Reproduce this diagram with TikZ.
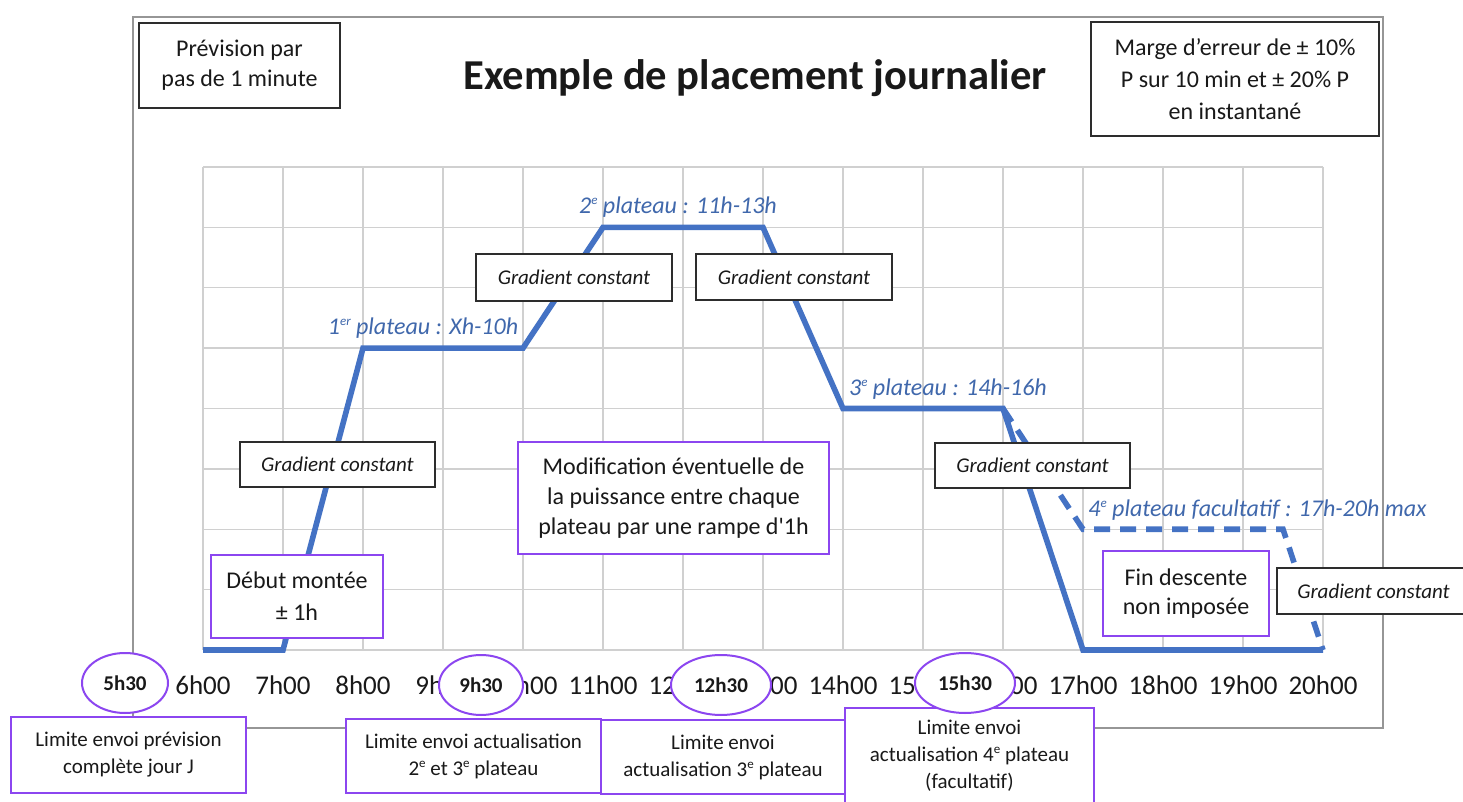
\documentclass[tikz,border=0pt]{standalone}
\usepackage{fontspec}
\newfontfamily\cf{Carlito}
\usetikzlibrary{shapes.geometric}
\definecolor{lineblue}{RGB}{68,114,196}
\definecolor{txtblue}{RGB}{64,104,172}
\definecolor{purp}{RGB}{140,70,240}
\definecolor{gridgray}{RGB}{208,208,208}
\definecolor{framegray}{RGB}{150,150,150}
\definecolor{boxblack}{RGB}{45,45,45}
\definecolor{txt}{RGB}{25,25,25}
\newcommand\supx[1]{\raisebox{0.8ex}{\fontsize{6.5}{7}\selectfont #1}}
\begin{document}
\begin{tikzpicture}[x=0.5pt,y=-0.5pt, font=\cf, text=txt,
  blackbox/.style={draw=boxblack, line width=1pt, fill=white, inner sep=0pt, align=center},
  purpbox/.style={draw=purp, line width=1pt, fill=white, inner sep=0pt, align=center},
  gcbox/.style={blackbox, font=\cf\itshape\fontsize{10.5}{13}\selectfont},
  bigtext/.style={font=\cf\fontsize{12}{15}\selectfont},
  smalltext/.style={font=\cf\fontsize{10.5}{13.5}\selectfont},
  axislabel/.style={font=\cf\fontsize{13.5}{15}\selectfont, inner sep=0pt},
  ell/.style={ellipse, draw=purp, line width=1pt, fill=white, inner sep=0pt, font=\cf\bfseries\fontsize{10.5}{12}\selectfont},
  plat/.style={font=\cf\itshape\fontsize{12}{14}\selectfont, text=txtblue, inner sep=0pt},
  gridline/.style={draw=gridgray, line width=0.75pt},
  curve/.style={draw=lineblue, line width=2.8pt, line join=miter}
]
\useasboundingbox (0,0) rectangle (1463,802);
\clip (0,0) rectangle (1463,802);
\fill[white] (0,0) rectangle (1463,802);
% frame
\draw[framegray, line width=0.8pt] (133,17) rectangle (1383,728);
% grid
\foreach \i in {0,...,14} \draw[gridline] ({203+80*\i},167) -- ({203+80*\i},650);
\foreach \j in {0,...,8} \draw[gridline] (203,{167+60.375*\j}) -- (1323,{167+60.375*\j});
% curves
\draw[curve] (203,650) -- (283,650) -- (363,348.1) -- (523,348.1) -- (603,227.4) -- (763,227.4) -- (843,408.5) -- (1003,408.5) -- (1083,650) -- (1323,650);
\draw[curve, dash pattern=on 8pt off 5pt] (1003,408.5) -- (1083,529.25) -- (1283,529.25) -- (1323,650);
% axis labels
\foreach \h [count=\k from 0] in {6,...,20} \node[axislabel] (t\h) at ({203+80*\k},685) {\h h00};
% top boxes and title
\node[blackbox, bigtext, minimum width=100.5pt, minimum height=42.5pt] (prev) at (239.5,65.5) {Prévision par\\pas de 1 minute};
\node[font=\cf\bfseries\fontsize{21.3}{24}\selectfont, inner sep=0pt] (title) at (755,78) {Exemple de placement journalier};
\node[blackbox, font=\cf\fontsize{12}{16}\selectfont, minimum width=144pt, minimum height=57pt] (marge) at (1235,79) {Marge d’erreur de ± 10\%\\P sur 10 min et ± 20\% P\\en instantané};
% gradient boxes
\node[gcbox, minimum width=97.5pt, minimum height=22.5pt] (gc1) at (337.5,464.5) {Gradient constant};
\node[gcbox, minimum width=98pt, minimum height=23.5pt] (gc2) at (574,277.5) {Gradient constant};
\node[gcbox, minimum width=98pt, minimum height=23pt] (gc3) at (794,277) {Gradient constant};
\node[gcbox, minimum width=97.5pt, minimum height=22.5pt] (gc4) at (1032.5,465.5) {Gradient constant};
\node[gcbox, minimum width=96.5pt, minimum height=23pt] (gc5) at (1373.5,591) {Gradient constant};
% purple boxes in chart
\node[purpbox, font=\cf\fontsize{12}{16}\selectfont, minimum width=86pt, minimum height=41.5pt] (debut) at (297,596.5) {Début montée\\± 1h};
\node[purpbox, bigtext, minimum width=155.5pt, minimum height=56pt] (modif) at (673.5,498) {Modification éventuelle de\\la puissance entre chaque\\plateau par une rampe d'1h};
\node[purpbox, font=\cf\fontsize{12}{14.5}\selectfont, minimum width=83pt, minimum height=42.5pt] (fin) at (1186,593.5) {Fin descente\\non imposée};
% bottom boxes
\node[purpbox, smalltext, minimum width=117.5pt, minimum height=38pt] (b1) at (128.5,755) {Limite envoi prévision\\complète jour J};
\node[purpbox, smalltext, minimum width=127.5pt, minimum height=37pt] (b2) at (473.5,756) {Limite envoi actualisation\\2\supx{e} et 3\supx{e} plateau};
\node[purpbox, smalltext, minimum width=122pt, minimum height=37pt] (b3) at (723,757) {Limite envoi\\actualisation 3\supx{e} plateau};
\node[purpbox, smalltext, minimum width=124.5pt, minimum height=48pt] (b4) at (969.5,756) {Limite envoi\\actualisation 4\supx{e} plateau\\(facultatif)};
% ellipses
\node[ell, minimum width=43pt, minimum height=30pt] (e1) at (125,683) {5h30};
\node[ell, minimum width=42pt, minimum height=30pt] (e2) at (481,685) {9h30};
\node[ell, minimum width=50pt, minimum height=30pt] (e3) at (721,685) {12h30};
\node[ell, minimum width=50pt, minimum height=30pt] (e4) at (965,683) {15h30};
% plateau labels
\node[plat] (p1) at (423,328) {1\supx{er} plateau : Xh-10h};
\node[plat] (p2) at (678,207) {2\supx{e} plateau : 11h-13h};
\node[plat] (p3) at (948,389) {3\supx{e} plateau : 14h-16h};
\node[plat, anchor=west] (p4) at (1088,510) {4\supx{e} plateau facultatif : 17h-20h max};
\end{tikzpicture}
\end{document}
